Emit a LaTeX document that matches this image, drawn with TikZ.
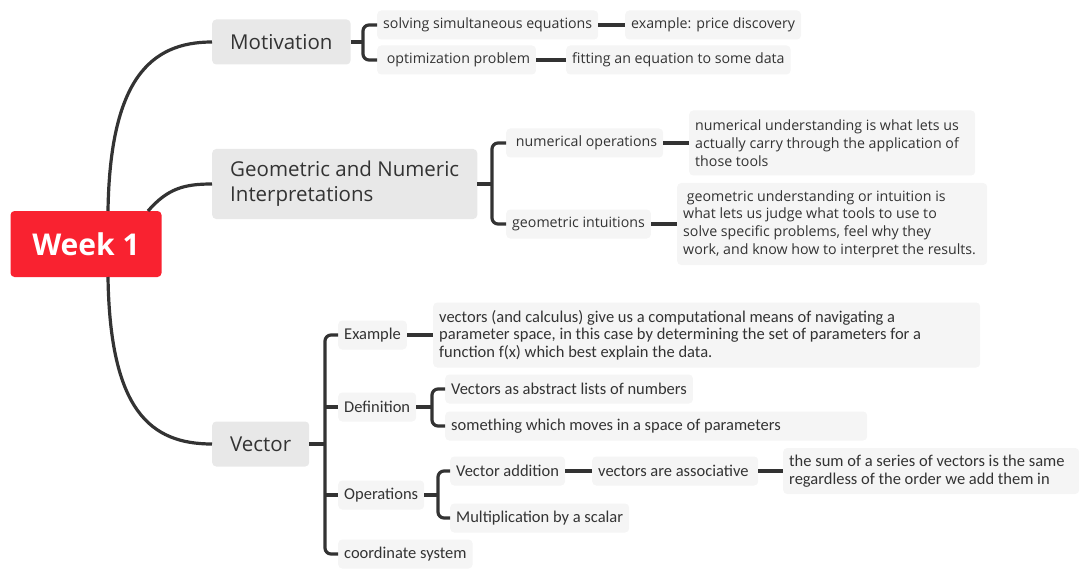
\documentclass[tikz,border=0pt]{standalone}
\usepackage{fontspec}
\setmainfont{Open Sans}
\newfontfamily\narrowfont{Carlito}
\usepackage{xcolor}
\usetikzlibrary{positioning}

\definecolor{weekred}{RGB}{249,34,48}
\definecolor{topicgray}{RGB}{232,232,232}
\definecolor{leafgray}{RGB}{245,245,245}
\definecolor{inkgray}{RGB}{51,51,51}

\begin{document}
\begin{tikzpicture}[
        x=1pt, y=-1pt,
        root/.style={rectangle, rounded corners=4, fill=weekred, text=white, font=\fontsize{30}{34}\selectfont\bfseries, minimum width=151, minimum height=66},
        topic/.style={rectangle, rounded corners=4, fill=topicgray, text=inkgray, font=\fontsize{20.5}{25}\selectfont, inner xsep=18, minimum height=45, align=left},
        leaf/.style={rectangle, rounded corners=4, fill=leafgray, text=inkgray, font=\fontsize{14.2}{17.7}\selectfont, inner xsep=6, minimum height=29, align=left},
        vleaf/.style={leaf, font=\narrowfont\fontsize{16.5}{17.7}\selectfont},
        note/.style={text width=#1, align=flush left},
        link/.style={draw=inkgray, line width=3.2, rounded corners=6}
    ]
        \useasboundingbox (0,0) rectangle (1086,580);

        % central topic and main branches
        \node[root] (week) at (86,244) {Week 1};
        \node[topic, anchor=west] (motiv) at (212,42) {Motivation};
        \node[topic, anchor=west, minimum height=70] (geo) at (212,184) {Geometric and Numeric\\Interpretations};
        \node[topic, anchor=west] (vect) at (212,444) {Vector};

        % motivation
        \node[leaf, anchor=west] (solve) at (377,25) {solving simultaneous equations};
        \node[leaf, anchor=west] (price) at (625,25) {example: price discovery};
        \node[leaf, anchor=west] (optim) at (377,60) {\ optimization problem};
        \node[leaf, anchor=west] (fit) at (566,60) {fitting an equation to some data};

        % interpretations
        \node[leaf, note=274, anchor=west, minimum height=65] (numtext) at (689,143) {numerical understanding is what lets us\\actually carry through the application of\\those tools};
        \node[leaf, anchor=west] (numop) at (506,143) {\ numerical operations};
        \node[leaf, anchor=west] (geoint) at (506,224) {geometric intuitions};
        \node[leaf, note=298, anchor=west, minimum height=82] (geotext) at (677,224) {\ geometric understanding or intuition is\\what lets us judge what tools to use to\\solve specific problems, feel why they\\work, and know how to interpret the results.};

        % vector
        \node[vleaf, anchor=west] (examp) at (338,335) {Example};
        \node[vleaf, note=535, anchor=west, minimum height=65] (extext) at (433,335) {vectors (and calculus) give us a computational means of navigating a\\parameter space, in this case by determining the set of parameters for a\\function f(x) which best explain the data.};
        \node[vleaf, anchor=west] (defin) at (338,407) {Definition};
        \node[vleaf, anchor=west] (vlist) at (445,389) {Vectors as abstract lists of numbers};
        \node[vleaf, note=410, anchor=west] (vmove) at (445,426) {something which moves in a space of parameters};
        \node[vleaf, anchor=west] (opers) at (338,495) {Operations};
        \node[vleaf, anchor=west] (vadd) at (450,471) {Vector addition};
        \node[vleaf, anchor=west] (assoc) at (592,471) {vectors are associative\ };
        \node[vleaf, note=284, anchor=west, minimum height=46] (sumtext) at (783,471) {the sum of a series of vectors is the same\\regardless of the order we add them in};
        \node[vleaf, anchor=west] (scalar) at (450,518) {Multiplication by a scalar};
        \node[vleaf, anchor=west] (coordsys) at (338,554) {coordinate system};

        % bracket joints
        \coordinate (wtop) at (108,211);
        \coordinate (wmid) at (148,211);
        \coordinate (wbot) at (108,277);
        \coordinate (mb) at (363,42);
        \coordinate (gb) at (492,184);
        \coordinate (vb) at (325,444);
        \coordinate (db) at (432,407);
        \coordinate (ob) at (438,495);

        % main branches
        \draw[link] (wtop) .. controls (110,80) and (150,42) .. (motiv.west);
        \draw[link] (wmid) .. controls (168,188) and (185,184) .. (geo.west);
        \draw[link] (wbot) .. controls (110,410) and (150,444) .. (vect.west);

        % motivation links
        \draw[link] (motiv.east) -- (mb);
        \draw[link] (solve.west) -| (mb) |- (optim.west);
        \draw[link] (solve.east) -- (price.west);
        \draw[link] (optim.east) -- (fit.west);

        % interpretation links
        \draw[link] (geo.east) -- (gb);
        \draw[link] (numop.west) -| (gb) |- (geoint.west);
        \draw[link] (numop.east) -- (numtext.west);
        \draw[link] (geoint.east) -- (geotext.west);

        % vector links
        \draw[link] (vect.east) -- (vb);
        \draw[link] (examp.west) -| (vb) |- (coordsys.west);
        \draw[link] (vb |- defin.west) -- (defin.west);
        \draw[link] (vb |- opers.west) -- (opers.west);
        \draw[link] (examp.east) -- (extext.west);
        \draw[link] (defin.east) -- (db);
        \draw[link] (vlist.west) -| (db) |- (vmove.west);
        \draw[link] (opers.east) -- (ob);
        \draw[link] (vadd.west) -| (ob) |- (scalar.west);
        \draw[link] (vadd.east) -- (assoc.west);
        \draw[link] (assoc.east) -- (sumtext.west);
    \end{tikzpicture}
\end{document}
